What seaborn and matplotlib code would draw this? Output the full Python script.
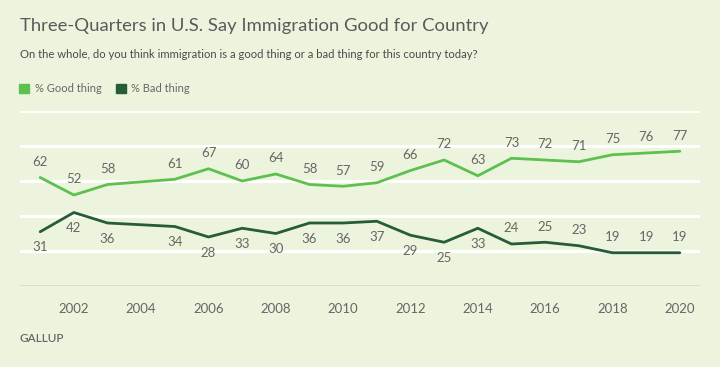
import pandas as pd
import matplotlib.pyplot as plt
import seaborn as sns
from matplotlib.patches import Patch

# Gallup trend, 2004 not asked
anos = [2001, 2002, 2003, 2005, 2006, 2007, 2008, 2009, 2010, 2011,
        2012, 2013, 2014, 2015, 2016, 2017, 2018, 2019, 2020]
bom = [62, 52, 58, 61, 67, 60, 64, 58, 57, 59,
       66, 72, 63, 73, 72, 71, 75, 76, 77]
mau = [31, 42, 36, 34, 28, 33, 30, 36, 36, 37,
       29, 25, 33, 24, 25, 23, 19, 19, 19]
series = ["% Good thing", "% Bad thing"]

FUNDO = "#EDF4DE"
VERDE_CLARO = "#5DC04F"
VERDE_ESCURO = "#265C37"
CINZA = "#666666"

df = pd.DataFrame({
    "ano": anos * 2,
    "valor": bom + mau,
    "serie": [series[0]] * len(anos) + [series[1]] * len(anos),
})

sns.set_style("white")
plt.rcParams["font.family"] = ["Lato", "DejaVu Sans"]

fig = plt.figure(figsize=(7.2, 3.67), dpi=100, facecolor=FUNDO)
ax = fig.add_axes([20 / 720, 1 - 286 / 367, 680 / 720, 175 / 367])
ax.set_facecolor(FUNDO)

for y in [20, 40, 60, 80, 100]:
    ax.axhline(y, color="white", lw=2.2, zorder=1)
ax.axhline(0, color="#D5D8D0", lw=2, zorder=1)

sns.lineplot(data=df, x="ano", y="valor", hue="serie",
             palette=[VERDE_CLARO, VERDE_ESCURO], lw=2,
             legend=False, ax=ax, zorder=3)

for a, v in zip(anos, bom):
    ax.annotate(str(v), (a, v), xytext=(0, 7), textcoords="offset points",
                ha="center", va="bottom", fontsize=9.5, color=CINZA)
for a, v in zip(anos, mau):
    dy = 7 if a >= 2015 else -7
    ax.annotate(str(v), (a, v), xytext=(0, dy), textcoords="offset points",
                ha="center", va="bottom" if dy > 0 else "top",
                fontsize=9.5, color=CINZA)

ax.set_xlim(2000.4, 2020.6)
ax.set_ylim(0, 100)
ax.set_xticks(range(2002, 2021, 2))
ax.set_yticks([])
ax.tick_params(axis="x", length=7, width=1.5, color="#D5D8D0",
               labelsize=9.5, labelcolor=CINZA, pad=5)
ax.set_xlabel("")
ax.set_ylabel("")
sns.despine(ax=ax, left=True, bottom=True)

fig.text(20 / 720, 1 - 26 / 367, "Three-Quarters in U.S. Say Immigration Good for Country",
         fontsize=13.3, color="#5A5A5A", va="center")
fig.text(20 / 720, 1 - 55 / 367,
         "On the whole, do you think immigration is a good thing or a bad thing for this country today?",
         fontsize=8.1, color="#4A4A4A", va="center")

fig.legend(handles=[Patch(color=VERDE_CLARO, label=series[0]),
                    Patch(color=VERDE_ESCURO, label=series[1])],
           loc="center left", bbox_to_anchor=(9 / 720, 1 - 89 / 367),
           ncol=2, frameon=False, fontsize=8, labelcolor=CINZA,
           handlelength=0.9, handleheight=0.9, handletextpad=0.5,
           columnspacing=1.3)

fig.text(20 / 720, 1 - 339 / 367, "GALLUP", fontsize=8.5, color=CINZA,
         va="center", fontweight="semibold")

fig.savefig("out.png", dpi=100, facecolor=FUNDO)
